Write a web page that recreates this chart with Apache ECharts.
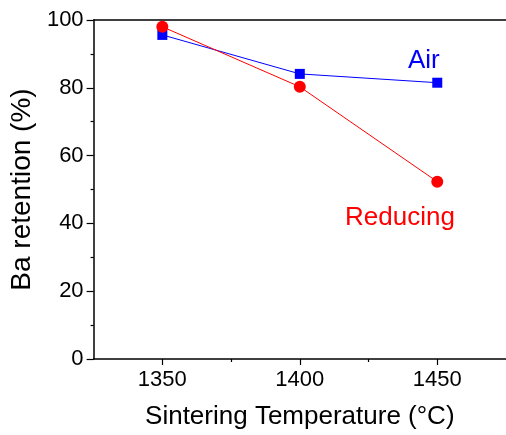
<!DOCTYPE html>
<html>
<head>
<meta charset="utf-8">
<script src="https://cdn.jsdelivr.net/npm/echarts@6/dist/echarts.min.js"></script>
<style>
  html, body { margin: 0; padding: 0; background: #fff; }
  #chart { width: 506px; height: 435px; }
</style>
</head>
<body>
<div id="chart"></div>
<script>
// sintering temperatures (°C) and Ba retention (%)
const temps = [1350, 1400, 1450];
const airValues = [95.6, 84.1, 81.5];
const reducingValues = [98.0, 80.3, 52.3];
const xTickLabels = [1350, 1400, 1450];
const xMinorTicks = [1375, 1425];

const FONT = 'Liberation Sans, Arial, sans-serif';
const chart = echarts.init(document.getElementById('chart'));

const pairs = (vals) => temps.map((t, i) => [t, vals[i]]);

const option = {
  backgroundColor: '#fff',
  animation: false,
  grid: { left: 91, top: 20, right: -5, bottom: 76 },
  xAxis: [
    {
      type: 'value', position: 'bottom', min: 1325, max: 1475,
      name: 'Sintering Temperature (°C)', nameLocation: 'middle', nameGap: 45,
      nameTextStyle: { fontFamily: FONT, fontSize: 26, color: '#000' },
      axisLine: { lineStyle: { color: '#000', width: 1.5 } },
      axisTick: { show: true, inside: false, length: 6, customValues: xTickLabels, lineStyle: { color: '#000', width: 1.2 } },
      axisLabel: { customValues: xTickLabels, margin: 10, fontFamily: FONT, fontSize: 22, color: '#000',
        formatter: (v) => String(v) },
      splitLine: { show: false }
    },
    {
      type: 'value', position: 'bottom', min: 1325, max: 1475,
      axisLine: { show: false },
      axisTick: { show: true, length: 3, customValues: xMinorTicks, lineStyle: { color: '#000', width: 1.2 } },
      axisLabel: { show: false },
      splitLine: { show: false }
    },
    {
      type: 'value', position: 'top', min: 1325, max: 1475,
      axisLine: { lineStyle: { color: '#000', width: 1.5 } },
      axisTick: { show: false }, axisLabel: { show: false }, splitLine: { show: false }
    }
  ],
  yAxis: {
    type: 'value', min: 0, max: 100, interval: 20,
    name: 'Ba retention (%)', nameLocation: 'middle', nameGap: 49, nameRotate: 90,
    nameTextStyle: { fontFamily: FONT, fontSize: 28, color: '#000' },
    axisLine: { show: true, lineStyle: { color: '#000', width: 1.5 } },
    axisTick: { show: true, length: 7, lineStyle: { color: '#000', width: 1.2 } },
    minorTick: { show: true, splitNumber: 2, length: 3, lineStyle: { color: '#000', width: 1.2 } },
    axisLabel: { margin: 10, fontFamily: FONT, fontSize: 22, color: '#000' },
    splitLine: { show: false }
  },
  series: [
    {
      name: 'Air', type: 'line', data: pairs(airValues),
      symbol: 'rect', symbolSize: 10,
      lineStyle: { color: '#0000ff', width: 1 },
      itemStyle: { color: '#0000ff' }
    },
    {
      name: 'Reducing', type: 'line', data: pairs(reducingValues),
      symbol: 'circle', symbolSize: 12,
      lineStyle: { color: '#ff0000', width: 1 },
      itemStyle: { color: '#ff0000' }
    }
  ],
  graphic: [
    { type: 'text', left: 408, top: 48, style: { text: 'Air', fill: '#0000ff', font: '26px ' + FONT } },
    { type: 'text', left: 345, top: 205, style: { text: 'Reducing', fill: '#ff0000', font: '26px ' + FONT } }
  ]
};

chart.setOption(option);
</script>
</body>
</html>
